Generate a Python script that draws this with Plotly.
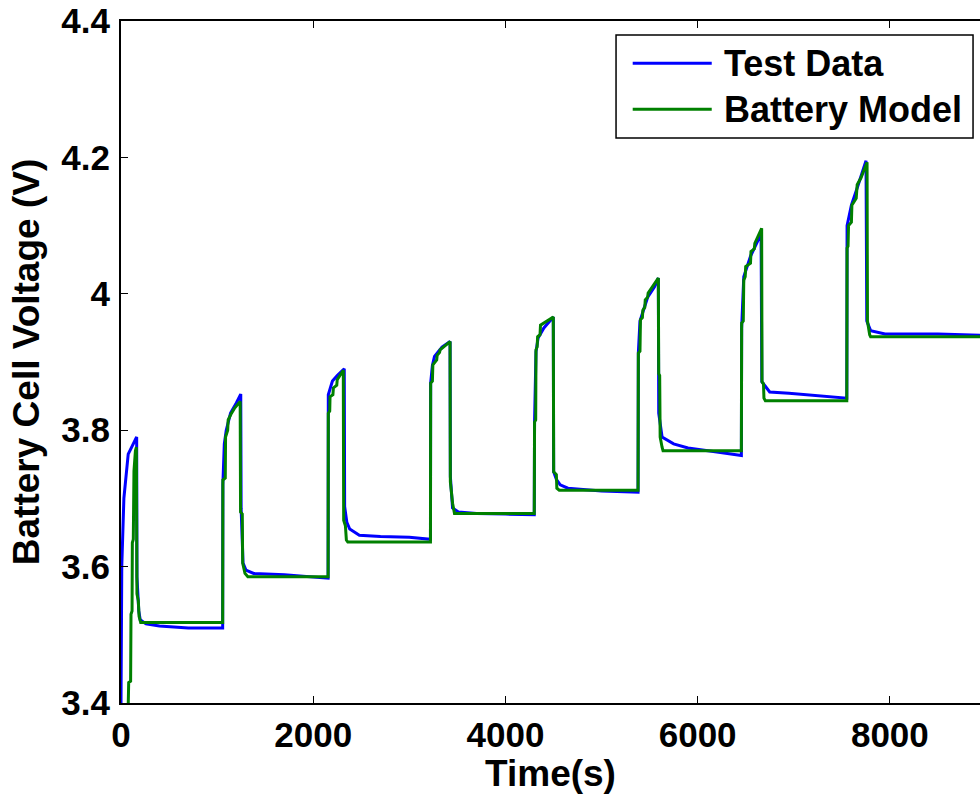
import plotly.graph_objects as go

# ---- data ----
test_time = [0, 8, 30, 75, 163, 166, 185, 200, 260, 400, 700, 1058,
             1060, 1075, 1095, 1140, 1200, 1246, 1250, 1258, 1270, 1300, 1380, 1700, 2000, 2155,
             2157, 2200, 2250, 2323, 2327, 2350, 2380, 2480, 2700, 3000, 3220,
             3222, 3240, 3262, 3340, 3424, 3427, 3450, 3510, 3700, 4000, 4300,
             4303, 4318, 4340, 4400, 4498, 4502, 4530, 4570, 4650, 5000, 5380,
             5383, 5400, 5480, 5550, 5591, 5595, 5630, 5750, 5900, 6200, 6455,
             6458, 6480, 6550, 6620, 6660, 6668, 6750, 6950, 7150, 7350, 7552,
             7555, 7600, 7660, 7710, 7752, 7760, 7800, 7950, 8500, 9000]
test_voltage = [3.395, 3.60, 3.70, 3.765, 3.790, 3.585, 3.535, 3.522, 3.516, 3.513, 3.510, 3.510,
                3.720, 3.780, 3.800, 3.825, 3.840, 3.853, 3.685, 3.640, 3.605, 3.595, 3.590, 3.588, 3.585, 3.583,
                3.852, 3.872, 3.880, 3.890, 3.688, 3.665, 3.655, 3.646, 3.644, 3.643, 3.640,
                3.869, 3.895, 3.908, 3.922, 3.930, 3.732, 3.686, 3.680, 3.678, 3.677, 3.676,
                3.812, 3.915, 3.935, 3.950, 3.966, 3.739, 3.728, 3.720, 3.715, 3.711, 3.709,
                3.913, 3.960, 3.995, 4.010, 4.023, 3.825, 3.790, 3.780, 3.774, 3.768, 3.763,
                3.950, 4.025, 4.055, 4.075, 4.088, 3.871, 3.856, 3.854, 3.852, 3.849, 3.847,
                4.100, 4.130, 4.155, 4.175, 4.195, 3.960, 3.946, 3.941, 3.941, 3.939]

model_time = [75, 80, 100, 104, 115, 118, 128, 135, 150, 160, 166, 180, 188, 205, 1058,
              1060, 1085, 1088, 1110, 1115, 1150, 1180, 1240, 1244, 1262, 1266, 1290, 1320, 2155,
              2157, 2172, 2175, 2205, 2210, 2245, 2250, 2313, 2317, 2335, 2345, 2360, 3220,
              3222, 3240, 3245, 3285, 3290, 3315, 3320, 3424, 3427, 3450, 3470, 4300,
              4303, 4315, 4318, 4330, 4335, 4360, 4365, 4498, 4502, 4530, 4535, 4560, 5380,
              5383, 5400, 5405, 5425, 5430, 5450, 5455, 5480, 5485, 5591, 5595, 5605, 5610, 5630, 5640, 6455,
              6458, 6475, 6480, 6495, 6500, 6550, 6555, 6590, 6595, 6666, 6670, 6685, 6690, 6705, 7552,
              7555, 7565, 7570, 7600, 7605, 7650, 7660, 7700, 7763, 7767, 7790, 7800, 9000]
model_voltage = [3.395, 3.430, 3.432, 3.530, 3.535, 3.635, 3.640, 3.740, 3.770, 3.775, 3.560, 3.550, 3.527, 3.518, 3.518,
                 3.727, 3.730, 3.790, 3.800, 3.815, 3.825, 3.832, 3.842, 3.680, 3.677, 3.605, 3.590, 3.585, 3.585,
                 3.825, 3.828, 3.849, 3.852, 3.862, 3.866, 3.874, 3.888, 3.668, 3.660, 3.639, 3.636, 3.636,
                 3.869, 3.872, 3.896, 3.903, 3.910, 3.914, 3.918, 3.930, 3.724, 3.693, 3.678, 3.678,
                 3.812, 3.815, 3.918, 3.922, 3.937, 3.940, 3.954, 3.966, 3.739, 3.735, 3.715, 3.712, 3.712,
                 3.913, 3.916, 3.962, 3.965, 3.976, 3.980, 3.991, 3.995, 4.001, 4.023, 3.883, 3.880, 3.790, 3.775, 3.770, 3.770,
                 3.957, 3.960, 4.020, 4.025, 4.040, 4.045, 4.062, 4.066, 4.074, 4.096, 3.871, 3.868, 3.847, 3.843, 3.843,
                 4.067, 4.070, 4.100, 4.105, 4.130, 4.140, 4.160, 4.170, 4.193, 3.960, 3.940, 3.937, 3.937]

x_ticks = [0, 2000, 4000, 6000, 8000]
y_ticks = [3.4, 3.6, 3.8, 4.0, 4.2, 4.4]
y_tick_labels = ["3.4", "3.6", "3.8", "4", "4.2", "4.4"]
series_names = ["Test Data", "Battery Model"]
series_colors = ["#0000FF", "#008000"]

FONT = "Liberation Sans, Arial, sans-serif"
TICK_FS = 35
TITLE_FS = 37
LEG_FS = 36

fig = go.Figure()
fig.add_trace(go.Scatter(x=test_time, y=test_voltage, mode="lines", name=series_names[0],
                         line=dict(color=series_colors[0], width=3), showlegend=False))
fig.add_trace(go.Scatter(x=model_time, y=model_voltage, mode="lines", name=series_names[1],
                         line=dict(color=series_colors[1], width=3), showlegend=False))

# custom legend box (MATLAB style)
fig.add_shape(type="rect", xref="paper", yref="paper", x0=0.5763, x1=0.9919, y0=0.8284, y1=0.9795,
              line=dict(color="black", width=1.5), fillcolor="white", layer="above")
legend_y = [0.938, 0.8705]
for name, color, ly in zip(series_names, series_colors, legend_y):
    fig.add_shape(type="line", xref="paper", yref="paper", x0=0.5957, x1=0.6877, y0=ly, y1=ly,
                  line=dict(color=color, width=3), layer="above")
    fig.add_annotation(xref="paper", yref="paper", x=0.7000, y=ly, text=name, showarrow=False,
                       xanchor="left", yanchor="middle",
                       font=dict(family=FONT, size=LEG_FS, color="black", weight="bold"))

fig.update_layout(
    width=980, height=794,
    margin=dict(l=121, r=0, t=21, b=91, autoexpand=False),
    paper_bgcolor="white", plot_bgcolor="white",
    font=dict(family=FONT, size=TICK_FS, color="black", weight="bold"),
)
fig.update_xaxes(range=[0, 8938], tickvals=x_ticks, ticktext=[str(v) for v in x_ticks],
                 ticks="inside", ticklen=7, tickwidth=1, tickcolor="black",
                 showline=True, linecolor="black", linewidth=2, mirror="ticks",
                 showgrid=False, zeroline=False,
                 tickfont=dict(family=FONT, size=TICK_FS, color="black", weight="bold"),
                 title=dict(text="Time(s)", standoff=0,
                            font=dict(family=FONT, size=TITLE_FS, color="black", weight="bold")))
fig.update_yaxes(range=[3.4, 4.4], tickvals=y_ticks, ticktext=y_tick_labels,
                 ticks="inside", ticklen=7, tickwidth=1, tickcolor="black",
                 showline=True, linecolor="black", linewidth=2, mirror=False,
                 showgrid=False, zeroline=False, ticklabelstandoff=2,
                 tickfont=dict(family=FONT, size=TICK_FS, color="black", weight="bold"),
                 title=dict(text="Battery Cell Voltage (V)", standoff=10,
                            font=dict(family=FONT, size=TITLE_FS, color="black", weight="bold")))

fig.write_html("out.html")
